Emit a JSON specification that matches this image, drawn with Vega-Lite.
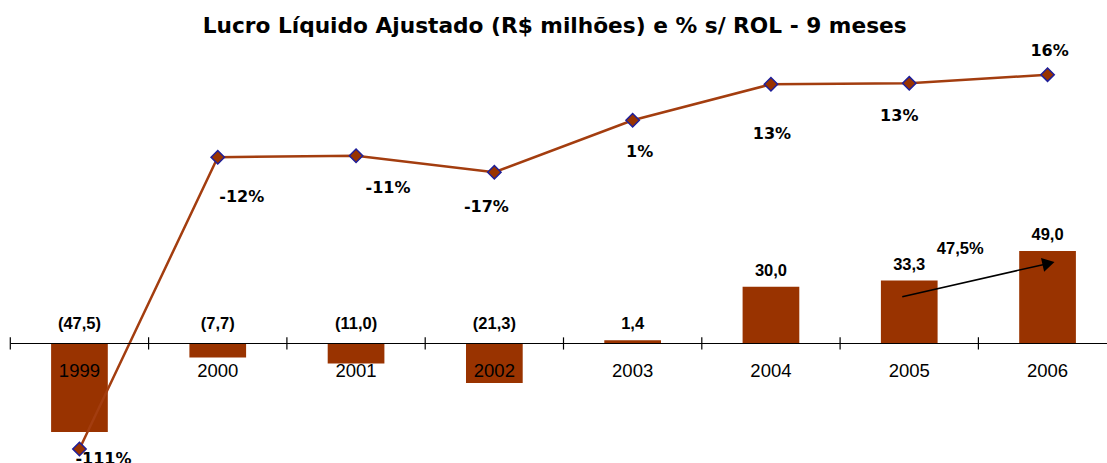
{
  "$schema": "https://vega.github.io/schema/vega-lite/v6.json",
  "width": 1096.7,
  "height": 423,
  "autosize": "none",
  "padding": {"left": 10.3, "top": 40, "right": 0, "bottom": 0},
  "background": "white",
  "config": {
    "view": {"stroke": null},
    "locale": {"number": {"decimal": ",", "thousands": ".", "grouping": [3], "currency": ["R$ ", ""], "minus": "-"}}
  },
  "title": {
    "text": "Lucro Líquido Ajustado (R$ milhões) e % s/ ROL - 9 meses",
    "font": "DejaVu Sans",
    "fontSize": 21.7,
    "fontWeight": "bold",
    "color": "black",
    "anchor": "middle",
    "baseline": "alphabetic",
    "offset": 8,
    "dx": -4,
    "dy": 23
  },
  "datasets": {
    "bars": [
      {"year": "1999", "value": -47.5},
      {"year": "2000", "value": -7.7},
      {"year": "2001", "value": -11.0},
      {"year": "2002", "value": -21.3},
      {"year": "2003", "value": 1.4},
      {"year": "2004", "value": 30.0},
      {"year": "2005", "value": 33.3},
      {"year": "2006", "value": 49.0}
    ],
    "pct": [
      {"year": "1999", "pct": -1.109},
      {"year": "2000", "pct": -0.12},
      {"year": "2001", "pct": -0.1146},
      {"year": "2002", "pct": -0.1708},
      {"year": "2003", "pct": 0.0054},
      {"year": "2004", "pct": 0.1275},
      {"year": "2005", "pct": 0.1308},
      {"year": "2006", "pct": 0.16}
    ],
    "growth": [
      {"from": "2005", "to": "2006", "growth": 0.475}
    ]
  },
  "encoding": {
    "x": {
      "field": "year",
      "type": "nominal",
      "sort": null,
      "scale": {"range": [0, 1106.4], "paddingInner": 0, "paddingOuter": 0},
      "axis": {
        "title": null,
        "orient": "bottom",
        "offset": -120,
        "domain": true,
        "domainColor": "black",
        "domainWidth": 1.2,
        "ticks": false,
        "tickSize": 0,
        "labelAngle": 0,
        "labelFont": "Liberation Sans",
        "labelFontSize": 18.5,
        "labelColor": "black",
        "labelBaseline": "middle",
        "labelPadding": 27,
        "zindex": 1
      }
    }
  },
  "layer": [
    {
      "layer": [
        {
          "data": {"name": "bars"},
          "mark": {"type": "bar", "color": "#993300", "width": {"band": 0.41}},
          "encoding": {
            "y": {"field": "value", "type": "quantitative", "scale": {"domain": [-63.97, 161.5], "nice": false, "zero": false}, "axis": null}
          }
        },
        {
          "data": {"name": "bars"},
          "mark": {"type": "rule", "color": "black", "strokeWidth": 1.2},
          "encoding": {
            "x": {"field": "year", "type": "nominal", "bandPosition": 0},
            "y": {"datum": 3.0, "type": "quantitative"},
            "y2": {"datum": -3.5}
          }
        },
        {
          "data": {"name": "bars"},
          "transform": [{"filter": "datum.value < 0"}],
          "mark": {"type": "text", "font": "Liberation Sans", "fontSize": 16.5, "fontWeight": "bold", "color": "black", "baseline": "middle", "align": "center", "dy": -19},
          "encoding": {
            "y": {"datum": 0, "type": "quantitative"},
            "text": {"field": "value", "type": "quantitative", "format": "(.1f"}
          }
        },
        {
          "data": {"name": "bars"},
          "transform": [{"filter": "datum.value >= 0"}],
          "mark": {"type": "text", "font": "Liberation Sans", "fontSize": 16.5, "fontWeight": "bold", "color": "black", "baseline": "middle", "align": "center", "dy": -16},
          "encoding": {
            "y": {"field": "value", "type": "quantitative"},
            "text": {"field": "value", "type": "quantitative", "format": "(.1f"}
          }
        },
        {
          "data": {"name": "growth"},
          "mark": {"type": "rule", "color": "black", "strokeWidth": 1.5, "xOffset": -7, "x2Offset": 1},
          "encoding": {
            "x": {"field": "from", "type": "nominal"},
            "x2": {"field": "to"},
            "y": {"datum": 24.7, "type": "quantitative"},
            "y2": {"datum": 42.4}
          }
        },
        {
          "data": {"name": "growth"},
          "mark": {"type": "point", "shape": "triangle-right", "filled": true, "color": "black", "opacity": 1, "size": 200, "angle": -12.8, "xOffset": 1},
          "encoding": {
            "x": {"field": "to", "type": "nominal"},
            "y": {"datum": 42.4, "type": "quantitative"}
          }
        },
        {
          "data": {"name": "growth"},
          "mark": {"type": "text", "font": "Liberation Sans", "fontSize": 16.5, "fontWeight": "bold", "color": "black", "baseline": "middle", "align": "center", "dx": 51},
          "encoding": {
            "x": {"field": "from", "type": "nominal"},
            "y": {"datum": 49.9, "type": "quantitative"},
            "text": {"field": "growth", "type": "quantitative", "format": ".1%"}
          }
        }
      ]
    },
    {
      "data": {"name": "pct"},
      "encoding": {
        "y": {"field": "pct", "type": "quantitative", "scale": {"domain": [-1.1563, 0.2776], "nice": false, "zero": false}, "axis": null}
      },
      "layer": [
        {"mark": {"type": "line", "color": "#A33D0F", "strokeWidth": 2.5}},
        {"mark": {"type": "point", "shape": "diamond", "filled": true, "fill": "#993300", "stroke": "#1F1F99", "strokeWidth": 1.5, "opacity": 1, "size": 180}},
        {"transform": [{"filter": "datum.year == '1999'"}], "mark": {"type": "text", "font": "DejaVu Sans", "fontSize": 16, "fontWeight": "bold", "color": "black", "baseline": "middle", "align": "center", "dx": 24, "dy": 10}, "encoding": {"text": {"field": "pct", "type": "quantitative", "format": ".0%"}}},
        {"transform": [{"filter": "datum.year == '2000'"}], "mark": {"type": "text", "font": "DejaVu Sans", "fontSize": 16, "fontWeight": "bold", "color": "black", "baseline": "middle", "align": "center", "dx": 24, "dy": 40}, "encoding": {"text": {"field": "pct", "type": "quantitative", "format": ".0%"}}},
        {"transform": [{"filter": "datum.year == '2001'"}], "mark": {"type": "text", "font": "DejaVu Sans", "fontSize": 16, "fontWeight": "bold", "color": "black", "baseline": "middle", "align": "center", "dx": 32, "dy": 32}, "encoding": {"text": {"field": "pct", "type": "quantitative", "format": ".0%"}}},
        {"transform": [{"filter": "datum.year == '2002'"}], "mark": {"type": "text", "font": "DejaVu Sans", "fontSize": 16, "fontWeight": "bold", "color": "black", "baseline": "middle", "align": "center", "dx": -8, "dy": 35}, "encoding": {"text": {"field": "pct", "type": "quantitative", "format": ".0%"}}},
        {"transform": [{"filter": "datum.year == '2003'"}], "mark": {"type": "text", "font": "DejaVu Sans", "fontSize": 16, "fontWeight": "bold", "color": "black", "baseline": "middle", "align": "center", "dx": 7, "dy": 32}, "encoding": {"text": {"field": "pct", "type": "quantitative", "format": ".0%"}}},
        {"transform": [{"filter": "datum.year == '2004'"}], "mark": {"type": "text", "font": "DejaVu Sans", "fontSize": 16, "fontWeight": "bold", "color": "black", "baseline": "middle", "align": "center", "dx": 1, "dy": 50}, "encoding": {"text": {"field": "pct", "type": "quantitative", "format": ".0%"}}},
        {"transform": [{"filter": "datum.year == '2005'"}], "mark": {"type": "text", "font": "DejaVu Sans", "fontSize": 16, "fontWeight": "bold", "color": "black", "baseline": "middle", "align": "center", "dx": -10, "dy": 33}, "encoding": {"text": {"field": "pct", "type": "quantitative", "format": ".0%"}}},
        {"transform": [{"filter": "datum.year == '2006'"}], "mark": {"type": "text", "font": "DejaVu Sans", "fontSize": 16, "fontWeight": "bold", "color": "black", "baseline": "middle", "align": "center", "dx": 2, "dy": -24}, "encoding": {"text": {"field": "pct", "type": "quantitative", "format": ".0%"}}}
      ]
    }
  ],
  "resolve": {"scale": {"y": "independent"}}
}
